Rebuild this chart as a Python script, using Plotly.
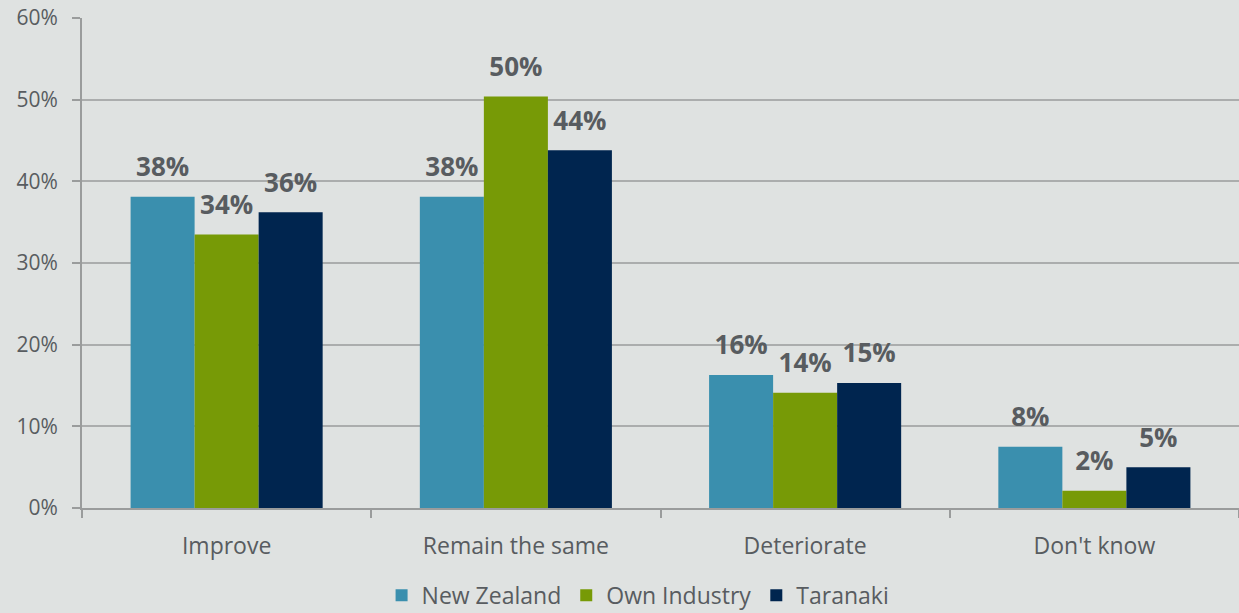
import plotly.graph_objects as go

categories = ["Improve", "Remain the same", "Deteriorate", "Don't know"]
new_zealand = [38.1, 38.1, 16.3, 7.5]
own_industry = [33.5, 50.4, 14.1, 2.1]
taranaki = [36.2, 43.8, 15.3, 5.0]
y_ticks = [0, 10, 20, 30, 40, 50, 60]
y_tick_labels = ["0%", "10%", "20%", "30%", "40%", "50%", "60%"]

series = [
    ("New Zealand", new_zealand, "#3A8FAE"),
    ("Own Industry", own_industry, "#779A06"),
    ("Taranaki", taranaki, "#00254F"),
]

BG = "#DFE2E1"
TXT = "#585C60"
AXIS = "#9A9C9C"
FONT = "Open Sans"
GAP = 0.336

fig = go.Figure()
for name, vals, color in series:
    fig.add_trace(go.Bar(
        name=name,
        x=categories,
        y=vals,
        offsetgroup=name,
        marker=dict(color=color, line=dict(width=0)),
        hovertemplate="%{x}: %{y:.0f}%<extra>" + name + "</extra>",
    ))

# value labels: text-only scatter points grouped like the bars,
# lifted above each bar by an invisible marker
for name, vals, color in series:
    fig.add_trace(go.Scatter(
        x=categories,
        y=vals,
        offsetgroup=name,
        mode="markers+text",
        marker=dict(size=21, opacity=0, color=color),
        text=[f"{v:.0f}%" for v in vals],
        textposition="top center",
        textfont=dict(family=FONT, size=26, color=TXT, weight="bold"),
        showlegend=False,
        hoverinfo="skip",
        cliponaxis=False,
    ))

fig.update_layout(
    width=1239,
    height=613,
    barmode="group",
    bargap=GAP,
    bargroupgap=0,
    scattermode="group",
    scattergap=GAP,
    paper_bgcolor=BG,
    plot_bgcolor=BG,
    margin=dict(l=82, r=0, t=18, b=105, autoexpand=False),
    font=dict(family=FONT, color=TXT),
    showlegend=True,
    legend=dict(
        orientation="h",
        x=0.515,
        xanchor="center",
        xref="container",
        yref="container",
        y=0.029,
        yanchor="middle",
        font=dict(family=FONT, size=23, color=TXT),
        itemwidth=30,
        traceorder="normal",
        bgcolor="rgba(0,0,0,0)",
    ),
)

fig.update_xaxes(
    showline=True,
    linecolor=AXIS,
    linewidth=2,
    ticks="outside",
    tickson="boundaries",
    ticklen=8,
    tickwidth=2,
    tickcolor=AXIS,
    tickfont=dict(family=FONT, size=23, color=TXT),
    ticklabelstandoff=16,
    showgrid=False,
    automargin=False,
)

fig.update_yaxes(
    range=[0, 60],
    tickvals=y_ticks,
    ticktext=y_tick_labels,
    showline=True,
    linecolor=AXIS,
    linewidth=2,
    ticks="outside",
    ticklen=8,
    tickwidth=2,
    tickcolor=AXIS,
    tickfont=dict(family=FONT, size=21, color=TXT),
    ticklabelstandoff=10,
    showgrid=True,
    gridcolor="#ABADAD",
    gridwidth=2,
    zeroline=False,
    automargin=False,
)

fig.write_html("out.html")
